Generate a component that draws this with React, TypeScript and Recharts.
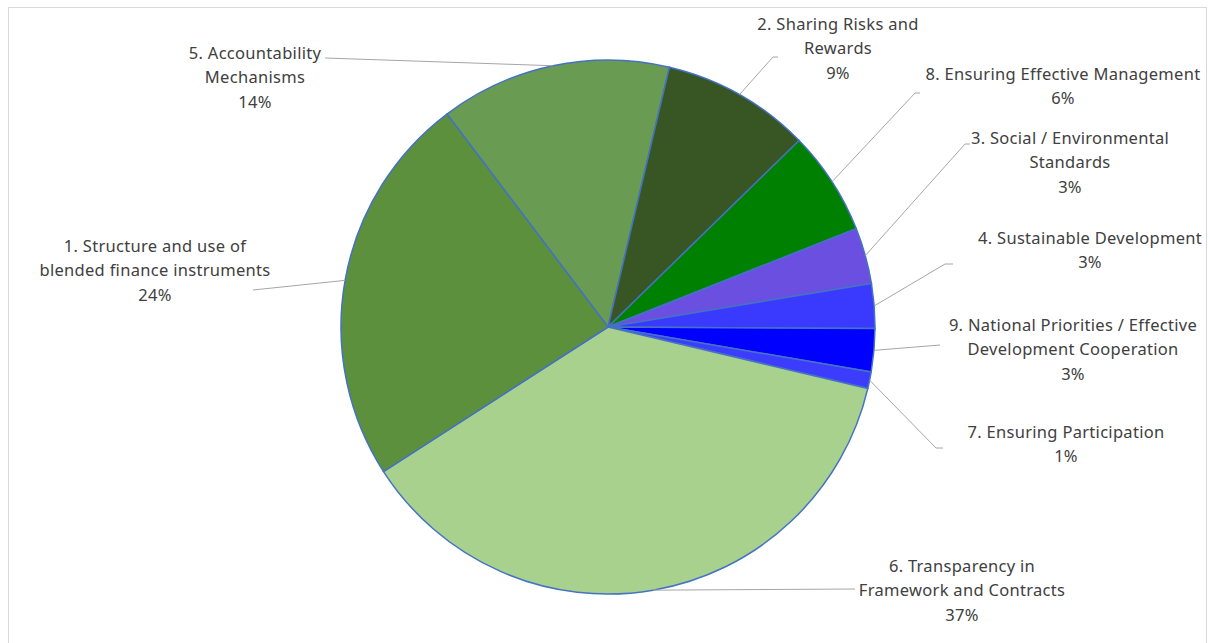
import React from "react";
import { Cell, Pie, PieChart } from "recharts";

// clockwise order, starting at the "5. Accountability" slice
const categories = [
  "5. Accountability Mechanisms",
  "2. Sharing Risks and Rewards",
  "8. Ensuring Effective Management",
  "3. Social / Environmental Standards",
  "4. Sustainable Development",
  "9. National Priorities / Effective Development Cooperation",
  "7. Ensuring Participation",
  "6. Transparency in Framework and Contracts",
  "1. Structure and use of blended finance instruments",
];
const shares = [14, 9, 6.3, 3.4, 2.7, 2.6, 1.0, 37.2, 23.8];
const labelLines = [
  ["5. Accountability", "Mechanisms"],
  ["2. Sharing Risks and", "Rewards"],
  ["8. Ensuring Effective Management"],
  ["3. Social / Environmental", "Standards"],
  ["4. Sustainable Development"],
  ["9. National Priorities / Effective", "Development Cooperation"],
  ["7. Ensuring Participation"],
  ["6. Transparency in", "Framework and Contracts"],
  ["1. Structure and use of", "blended finance instruments"],
];

const colors = ["#6a9b52", "#375623", "#008000", "#6b4fe0", "#3a3aff", "#0000ff", "#3c3cff", "#a9d18e", "#5d903c"];

// label placement: text centre x, first line y, leader end, optional elbow
const labelLayout = [
  { x: 255, y: 52, end: [325, 58], elbow: null },
  { x: 838, y: 23, end: [778, 57], elbow: [773, 57] },
  { x: 1063, y: 73, end: [920, 93], elbow: [915, 93] },
  { x: 1070, y: 137, end: [970, 144], elbow: [965, 144] },
  { x: 1090, y: 237, end: [953, 264], elbow: [945, 264] },
  { x: 1073, y: 324, end: [940, 345], elbow: null },
  { x: 1066, y: 431, end: [943, 448], elbow: [936, 448] },
  { x: 962, y: 565, end: [855, 589], elbow: null },
  { x: 155, y: 245, end: [253, 290], elbow: null },
];

const data = categories.map((name, i) => ({ name, value: shares[i] }));
const RADIAN = Math.PI / 180;
const LINE_H = 24.5;

const renderLabel = (props: any) => {
  const { cx, cy, midAngle, outerRadius, index, percent } = props;
  const lay = labelLayout[index];
  const sx = cx + outerRadius * Math.cos(-midAngle * RADIAN);
  const sy = cy + outerRadius * Math.sin(-midAngle * RADIAN);
  const pts = [[sx, sy]];
  if (lay.elbow) pts.push(lay.elbow);
  pts.push(lay.end);
  const lines = [...labelLines[index], `${Math.round(percent * 100)}%`];
  return (
    <g>
      <polyline points={pts.map((p) => p.join(",")).join(" ")} fill="none" stroke="#a6a6a6" strokeWidth={1} />
      {lines.map((t, k) => (
        <text
          key={k}
          x={lay.x}
          y={lay.y + k * LINE_H}
          textAnchor="middle"
          dominantBaseline="central"
          fill="#404040"
          fontSize={16.5}
          letterSpacing={0.3}
          fontFamily="'Noto Sans', sans-serif"
        >
          {t}
        </text>
      ))}
    </g>
  );
};

export default function App() {
  return (
    <div style={{ position: "fixed", left: 0, top: 0, width: 1210, height: 643, background: "#fff" }}>
      <div
        style={{
          position: "absolute",
          left: 8,
          top: 7,
          width: 1199,
          height: 645,
          border: "1px solid #d9d9d9",
          boxSizing: "border-box",
        }}
      />
      <div style={{ position: "absolute", left: 0, top: 0 }}>
        <PieChart width={1210} height={643} margin={{ top: 0, right: 0, bottom: 0, left: 0 }}>
          <Pie
            data={data}
            dataKey="value"
            nameKey="name"
            cx={608}
            cy={327}
            outerRadius={267}
            startAngle={127.1}
            endAngle={-232.9}
            stroke="#4472c4"
            strokeWidth={1.5}
            label={renderLabel}
            labelLine={false}
            isAnimationActive={false}
          >
            {data.map((d, i) => (
              <Cell key={d.name} fill={colors[i]} />
            ))}
          </Pie>
        </PieChart>
      </div>
    </div>
  );
}
